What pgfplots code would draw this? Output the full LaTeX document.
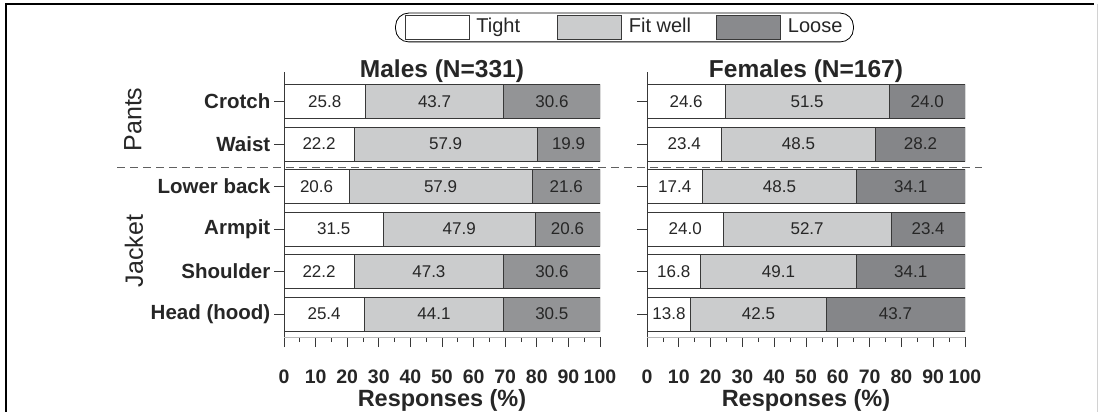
\documentclass[border=0pt]{standalone}
\usepackage{fontspec}
\setmainfont{Liberation Sans}
\usepackage{pgfplots}
\usepackage{pgfplotstable}
\pgfplotsset{compat=1.18}
\definecolor{fitc}{HTML}{CBCCCD}
\definecolor{loosem}{HTML}{939496}
\definecolor{loosef}{HTML}{858689}
\definecolor{loosel}{HTML}{898A8D}
\definecolor{edge}{HTML}{383838}
\definecolor{txt}{HTML}{262626}

\pgfplotstableread{
y T F L
0 25.8 43.7 30.6
1 22.2 57.9 19.9
2 20.6 57.9 21.6
3 31.5 47.9 20.6
4 22.2 47.3 30.6
5 25.4 44.1 30.5
}\males
\pgfplotstableread{
y T F L
0 24.6 51.5 24.0
1 23.4 48.5 28.2
2 17.4 48.5 34.1
3 24.0 52.7 23.4
4 16.8 49.1 34.1
5 13.8 42.5 43.7
}\females

\pgfplotsset{
  /pgf/number format/assume math mode=true,
  geom/.style={
    height=265pt, scale only axis,
    xmin=0, xmax=100, ymin=-0.694, ymax=5.541, y dir=reverse,
    enlargelimits=false,
  },
  base/.style={
    geom,
    xbar stacked, bar width=34pt,
    axis x line*=bottom, axis y line*=left,
    x axis line style={gray!55, line width=0.8pt, -},
    y axis line style={edge, line width=0.9pt, -},
    xtick={0,10,...,100}, minor x tick num=1,
    ytick={0,...,5},
    tick align=outside,
    major tick length=10pt, minor tick length=5pt,
    tick style={edge, line width=0.8pt},
    xticklabel style={font=\bfseries\fontsize{19.5}{20}\selectfont, text=txt, anchor=base, yshift=-36pt},
    yticklabel style={font=\bfseries\fontsize{20.5}{21}\selectfont, text=txt, inner xsep=3.5pt},
    title style={at={(0.5,0.956)}, anchor=base, font=\bfseries\fontsize{24.5}{26}\selectfont, text=txt},
    xlabel={Responses (\%)},
    xlabel style={at={(axis description cs:0.5,-0.264)}, anchor=base, font=\bfseries\fontsize{23.5}{25}\selectfont, text=txt},
  },
  lab/.style={geom, hide axis},
  vals/.style={
    draw=none, mark=none,
    nodes near coords={\pgfmathprintnumber[fixed,fixed zerofill,precision=1]{\pgfplotspointmeta}},
    point meta=\thisrow{#1},
    every node near coord/.append style={anchor=center, font=\fontsize{17}{17}\selectfont, text=txt},
  },
}

\begin{document}
\begin{tikzpicture}
\path[use as bounding box] (0pt,0pt) rectangle (1098pt,-412pt);

% Males bars
\begin{axis}[base, at={(284pt,-337pt)}, anchor=south west, width=316pt,
  title={Males (N=331)},
  yticklabels={Crotch,Waist,Lower back,Armpit,Shoulder,Head (hood)},
  legend columns=3,
  legend style={at={(1.0775,1.168)}, anchor=center, draw=black, line width=0.8pt, rounded corners=13pt,
    inner xsep=9pt, inner ysep=2pt, font=\fontsize{20}{20}\selectfont, text=txt,
    /tikz/every even column/.append style={column sep=23pt},
    /tikz/every odd column/.append style={column sep=5pt}},
]
\addlegendimage{legend image code/.code={\draw[fill=white,draw=edge,line width=0.8pt,rounded corners=0pt] (0pt,-13pt) rectangle (64pt,11pt);}}
\addlegendentry{Tight\rule{12pt}{0pt}}
\addlegendimage{legend image code/.code={\draw[fill=fitc,draw=edge,line width=0.8pt,rounded corners=0pt] (0pt,-13pt) rectangle (64pt,11pt);}}
\addlegendentry{Fit well}
\addlegendimage{legend image code/.code={\draw[fill=loosel,draw=edge,line width=0.8pt,rounded corners=0pt] (0pt,-13pt) rectangle (64pt,11pt);}}
\addlegendentry{Loose}
\addplot[fill=white, draw=edge, line width=0.8pt, forget plot] table[x=T,y=y]{\males};
\addplot[fill=fitc, draw=edge, line width=0.8pt, forget plot] table[x=F,y=y]{\males};
\addplot[fill=loosem, draw=edge, line width=0.8pt, forget plot] table[x=L,y=y]{\males};
\end{axis}

% Males value labels
\begin{axis}[lab, at={(284pt,-337pt)}, anchor=south west, width=316pt]
\addplot[vals=T] table[x expr=\thisrow{T}/2, y=y]{\males};
\addplot[vals=F] table[x expr=\thisrow{T}+\thisrow{F}/2, y=y]{\males};
\addplot[vals=L] table[x expr=\thisrow{T}+\thisrow{F}+\thisrow{L}/2, y=y]{\males};
\end{axis}

% Females bars
\begin{axis}[base, at={(647pt,-337pt)}, anchor=south west, width=318pt,
  title={Females (N=167)},
  yticklabels={},
]
\addplot[fill=white, draw=edge, line width=0.8pt] table[x=T,y=y]{\females};
\addplot[fill=fitc, draw=edge, line width=0.8pt] table[x=F,y=y]{\females};
\addplot[fill=loosef, draw=edge, line width=0.8pt] table[x=L,y=y]{\females};
\end{axis}

% Females value labels
\begin{axis}[lab, at={(647pt,-337pt)}, anchor=south west, width=318pt]
\addplot[vals=T] table[x expr=\thisrow{T}/2, y=y]{\females};
\addplot[vals=F] table[x expr=\thisrow{T}+\thisrow{F}/2, y=y]{\females};
\addplot[vals=L] table[x expr=\thisrow{T}+\thisrow{F}+\thisrow{L}/2, y=y]{\females};
\end{axis}

\draw[gray!75!black, line width=0.9pt, dash pattern=on 8pt off 5pt] (117pt,-167pt) -- (982pt,-167pt);
\node[rotate=90, font=\fontsize{25}{25}\selectfont, text=txt] at (133pt,-119.5pt) {Pants};
\node[rotate=90, font=\fontsize{25}{25}\selectfont, text=txt] at (134pt,-251pt) {Jacket};
\draw[line width=1.6pt] (6pt,-412pt) -- (6pt,-4.3pt) -- (1094pt,-4.3pt);
\draw[gray!35, line width=0.8pt] (1097pt,-4pt) -- (1097pt,-412pt);
\end{tikzpicture}
\end{document}
